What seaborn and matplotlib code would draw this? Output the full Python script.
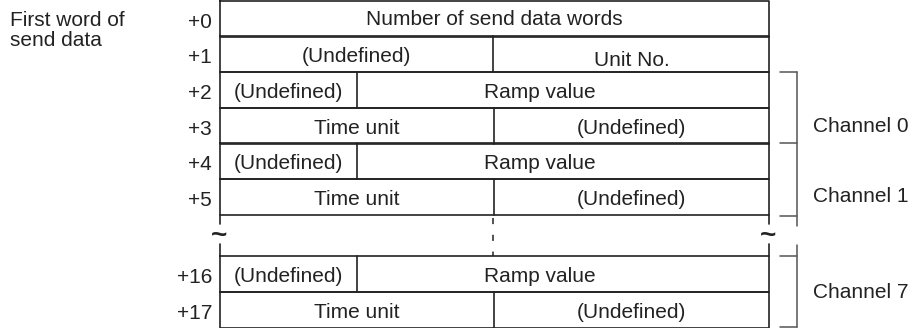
import matplotlib.pyplot as plt
import seaborn as sns

# word offsets and the text of each word (left part, right part)
offsets = ["+0", "+1", "+2", "+3", "+4", "+5", "+16", "+17"]
left_text = ["Number of send data words", "(Undefined)", "(Undefined)", "Time unit",
             "(Undefined)", "Time unit", "(Undefined)", "Time unit"]
right_text = [None, "Unit No.", "Ramp value", "(Undefined)",
              "Ramp value", "(Undefined)", "Ramp value", "(Undefined)"]
channels = ["Channel 0", "Channel 1", "Channel 7"]

# layout (pixels)
row_top = [1, 36, 72, 108, 143, 179, 256, 292]
row_h = 35.5
split_x = [None, 493, 357, 494, 357, 494, 357, 494]
right_tx = [None, 632, 540, 631, 540, 631, 540, 631]
x0, x1 = 220, 769
line_c = "#222222"
br_c = "#555555"

sns.set_theme(style="white")
plt.rcParams['font.family'] = ['Liberation Sans', 'DejaVu Sans']

fig = plt.figure(figsize=(9.24, 3.28), dpi=100)
ax = fig.add_axes([0, 0, 1, 1])
ax.set_xlim(0, 924)
ax.set_ylim(328, 0)
ax.axis("off")

fs = 15
tdy = 2.5
for i, off in enumerate(offsets):
    yt = row_top[i]
    yb = yt + row_h
    yc = yt + row_h / 2 + tdy
    ax.plot([x0, x1, x1, x0, x0], [yt, yt, yb, yb, yt], color=line_c, lw=1.2)
    ax.text(212, yc + 1.5, off, ha="right", va="center", fontsize=fs, color="#222")
    if split_x[i] is None:
        ax.text((x0 + x1) / 2, yc - 1.5, left_text[i], ha="center", va="center", fontsize=fs, color="#222")
    else:
        sx = split_x[i]
        ax.plot([sx, sx], [yt, yb], color=line_c, lw=1.2)
        ax.text((x0 + sx) / 2, yc, left_text[i], ha="center", va="center", fontsize=fs, color="#222")
        dy = 4 if i == 1 else 0
        ax.text(right_tx[i], yc + dy, right_text[i], ha="center", va="center", fontsize=fs, color="#222")

# gap between +5 and +16
for x in (x0, x1):
    ax.plot([x, x], [214.5, 224], color=line_c, lw=1.2)
    ax.plot([x, x], [244, 256], color=line_c, lw=1.2)
    ax.text(x - 1, 236, "~", ha="center", va="center", fontsize=20, fontweight="bold", color="#222")
ax.plot([493, 493], [218, 256], color=line_c, lw=1.1, ls=(0, (4, 7)))

ax.text(10, 11, "First word of\nsend data", ha="left", va="top", fontsize=fs,
        color="#222", linespacing=1.05)

# brackets
bx, tx = 797, 780
ax.plot([bx, bx], [72, 226], color=br_c, lw=1.1)
for y in (72, 143, 215.5):
    ax.plot([tx, bx], [y, y], color=br_c, lw=1.1)
ax.plot([bx, bx], [245, 327], color=br_c, lw=1.1)
for y in (256, 327):
    ax.plot([tx, bx], [y, y], color=br_c, lw=1.1)

for ch, y in zip(channels, [127, 197, 292]):
    ax.text(813, y, ch, ha="left", va="center", fontsize=fs, color="#222")

fig.savefig("out.png", dpi=100)
